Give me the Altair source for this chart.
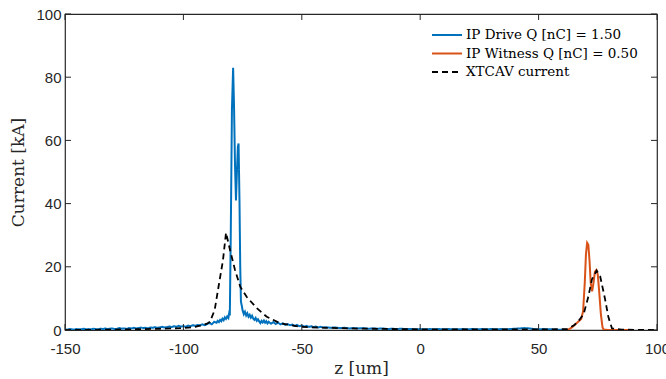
import altair as alt
import pandas as pd

# ---- data ----
drive_z = [-150, -149, -148, -147, -146, -145, -144, -143, -142, -141,
           -140, -139, -138, -137, -136, -135, -134, -133, -132, -131,
           -130, -129, -128, -127, -126, -125, -124, -123, -122, -121,
           -120, -119, -118, -117, -116, -115, -114, -113, -112, -111,
           -110, -109, -108, -107, -106, -105, -104, -103, -102, -101,
           -100, -99, -98, -97, -96, -95, -94, -93, -92, -91,
           -90, -89, -88, -87, -86,
           -85.5, -85, -84.5, -84, -83.5, -83, -82.5, -82, -81.5, -81, -80.7, -80.4,
           -80.0, -79.5, -79.0, -78.6, -78.2, -77.8, -77.4, -77.0, -76.7, -76.3, -76.0, -75.7,
           -75.3, -75.0, -74.5, -74.0, -73.5, -73.0, -72.5, -72.0, -71.5, -71.0, -70.5, -70.0,
           -69.5, -69.0, -68.5, -68.0, -67.5, -67.0, -66.5, -66.0, -65.5, -65.0, -64.5, -64.0,
           -63, -62, -61, -60, -59, -58, -57, -56, -55, -54, -53, -52, -51, -50,
           -49, -48, -47, -46, -45, -44, -43, -42, -41, -40,
           -38, -36, -34, -32, -30, -28, -26, -24, -22, -20, -18, -16, -14, -12, -10,
           -8, -6, -4, -2, 0, 2, 4, 6, 8, 10, 12, 14, 16, 18, 20, 22, 24, 26, 28, 30,
           32, 34, 36, 38, 40, 42, 44, 46, 48, 50, 52, 54, 56, 58, 60, 62]
drive_i = [0.2, 0.1, 0.3, 0.2, 0.1, 0.3, 0.2, 0.2, 0.4, 0.2,
           0.3, 0.2, 0.4, 0.3, 0.2, 0.4, 0.3, 0.5, 0.3, 0.4,
           0.5, 0.3, 0.4, 0.6, 0.4, 0.5, 0.3, 0.6, 0.5, 0.7,
           0.5, 0.6, 0.8, 0.6, 0.7, 0.5, 0.8, 0.7, 0.9, 0.7,
           0.8, 1.0, 0.8, 0.9, 1.1, 0.9, 1.2, 1.0, 1.3, 1.1,
           1.2, 1.0, 1.4, 1.2, 1.5, 1.3, 1.6, 1.4, 1.8, 1.5,
           1.9, 2.2, 1.8, 2.6, 2.3,
           2.9, 2.5, 3.2, 2.8, 3.6, 3.1, 4.0, 3.5, 4.3, 3.8, 5.2, 4.6,
           30, 70, 83, 70, 52, 41, 50, 58, 59, 40, 20, 9,
           7.5, 6.2, 5.0, 5.8, 4.6, 5.3, 4.2, 4.8, 3.9, 4.5, 3.6, 3.2,
           3.8, 2.9, 3.4, 2.7, 2.2, 2.9, 2.4, 3.0, 2.3, 2.8, 2.1, 2.6,
           2.0, 2.5, 1.9, 2.3, 1.8, 2.1, 1.6, 1.9, 1.5, 1.7, 1.3, 1.6, 1.2, 1.4,
           1.1, 1.3, 1.0, 1.2, 0.9, 1.1, 0.8, 1.0, 0.8, 0.9,
           0.7, 0.8, 0.6, 0.7, 0.5, 0.6, 0.5, 0.6, 0.4, 0.5, 0.4, 0.5, 0.3, 0.4, 0.3,
           0.4, 0.3, 0.3, 0.2, 0.3, 0.2, 0.3, 0.2, 0.3, 0.2, 0.3, 0.2, 0.2, 0.3, 0.2, 0.3,
           0.2, 0.3, 0.2, 0.3,
           0.2, 0.3, 0.2, 0.3, 0.4, 0.5, 0.6, 0.5, 0.3, 0.2, 0.3, 0.2, 0.2, 0.1, 0.1, 0.0]

witness_z = [60, 62.5, 64, 65.5, 67, 68, 68.8, 69.5, 70, 70.5, 71, 71.5, 72, 72.6,
             73.2, 73.8, 74.4, 75, 75.6, 76.3, 77, 77.5, 80, 85, 90]
witness_i = [0, 0.1, 0.8, 1.8, 2.8, 3.5, 6, 15, 24, 27.6, 27, 22, 15, 12.2,
             15, 18.5, 19, 17.5, 12, 5, 0.8, 0.1, 0, 0, 0]

xtcav_z = [-150, -130, -110, -100, -95, -90, -88.8, -86.8, -84.7, -83.3, -82, -80.3,
           -78.2, -76, -73.3, -69, -64.8, -59, -50.8, -40, -30, -20, 0, 20, 40, 55,
           62, 65, 67, 69, 71, 72.5, 74.5, 76, 78, 79.5, 81, 85, 100]
xtcav_i = [0, 0.1, 0.4, 0.6, 1.0, 2.0, 2.6, 6.3, 15.8, 22, 30.8, 25.3,
           19, 13.7, 10.5, 6.9, 4.2, 2.1, 1.0, 0.7, 0.5, 0.4, 0.2, 0.2, 0.2, 0.2,
           0.3, 1.5, 3.0, 5.0, 10.5, 16, 18.8, 17, 10, 4, 0.5, 0.1, 0]

series_names = ["IP Drive Q [nC] = 1.50", "IP Witness Q [nC] = 0.50", "XTCAV current"]
series_colors = ["#0072BD", "#D95319", "#000000"]
series_dash = [[1, 0], [1, 0], [6, 4]]

x_ticks = [-150, -100, -50, 0, 50, 100]
y_ticks = [0, 20, 40, 60, 80, 100]

# ---- tables ----
df = pd.concat([
    pd.DataFrame({"z": drive_z, "current": drive_i, "series": series_names[0]}),
    pd.DataFrame({"z": witness_z, "current": witness_i, "series": series_names[1]}),
    pd.DataFrame({"z": xtcav_z, "current": xtcav_i, "series": series_names[2]}),
], ignore_index=True)
df["idx"] = range(len(df))

W, H = 592, 316
serif = "DejaVu Serif"
sans = "Liberation Sans"

xscale = alt.Scale(domain=[-150, 100], nice=False, zero=False)
yscale = alt.Scale(domain=[0, 100], nice=False)

legend_kw = dict(title=None, orient="none", legendX=366, legendY=13,
                 symbolType="stroke", symbolSize=900, symbolStrokeWidth=2,
                 labelFont=serif, labelFontSize=13.5, labelColor="#000000",
                 labelLimit=400,
                 clipHeight=16, rowPadding=2.5, padding=0, labelOffset=3)
color = alt.Color("series:N", scale=alt.Scale(domain=series_names, range=series_colors),
                  legend=alt.Legend(**legend_kw))
dash = alt.StrokeDash("series:N", scale=alt.Scale(domain=series_names, range=series_dash),
                      legend=alt.Legend(**legend_kw))

base = alt.Chart(df)
xenc = alt.X("z:Q", scale=xscale,
             axis=alt.Axis(title="z [um]", values=x_ticks, ticks=False, domain=False, grid=False,
                           labelExpr="'' + datum.value",
                           labelFont=sans, labelFontSize=15, labelColor="#262626",
                           labelPadding=11, titleFont=serif, titleFontSize=17,
                           titleFontWeight="normal", titleColor="#262626", titlePadding=4,
                           labelFlush=False))
yenc = alt.Y("current:Q", scale=yscale,
             axis=alt.Axis(title="Current [kA]", values=y_ticks, ticks=False, domain=False,
                           grid=False, labelFont=sans, labelFontSize=15, labelColor="#262626",
                           labelPadding=4, titleFont=serif, titleFontSize=17,
                           titleFontWeight="normal", titleColor="#262626", titlePadding=8,
                           labelFlush=False))

layers = []
for k, nm in enumerate(series_names):
    layers.append(
        base.transform_filter(alt.datum.series == nm)
        .mark_line(strokeWidth=2 if k < 2 else 1.8, clip=True)
        .encode(x=xenc, y=yenc, color=color, strokeDash=dash, order="idx:Q")
    )

xt = pd.DataFrame({"z": x_ticks})
yt = pd.DataFrame({"current": y_ticks})
tick_color = "#262626"
xb = alt.Chart(xt).mark_rule(color=tick_color, strokeWidth=1).encode(
    x=alt.X("z:Q", scale=xscale), y=alt.value(H), y2=alt.value(H - 6))
xtop = alt.Chart(xt).mark_rule(color=tick_color, strokeWidth=1).encode(
    x=alt.X("z:Q", scale=xscale), y=alt.value(0), y2=alt.value(6))
yl = alt.Chart(yt).mark_rule(color=tick_color, strokeWidth=1).encode(
    y=alt.Y("current:Q", scale=yscale), x=alt.value(0), x2=alt.value(6))
yr = alt.Chart(yt).mark_rule(color=tick_color, strokeWidth=1).encode(
    y=alt.Y("current:Q", scale=yscale), x=alt.value(W), x2=alt.value(W - 6))

chart = alt.layer(*layers, xb, xtop, yl, yr).properties(
    width=W, height=H,
    autosize=alt.AutoSizeParams(type="none"),
    padding={"left": 65, "top": 14, "right": 9, "bottom": 49},
    background="white",
).configure_view(stroke="#262626", strokeWidth=1.2)

chart.save("out.html", embed_options={"renderer": "svg", "actions": False})
